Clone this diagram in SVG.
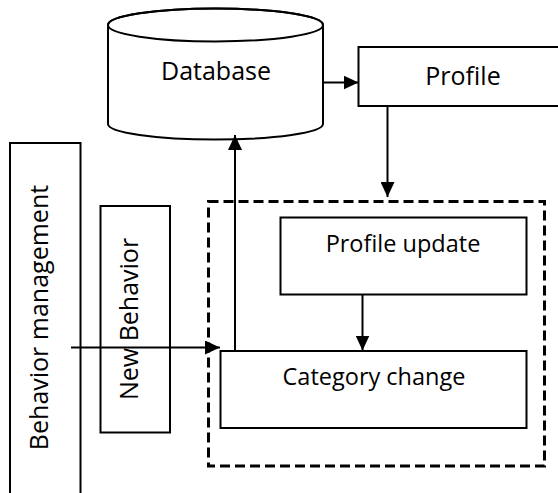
<svg xmlns="http://www.w3.org/2000/svg" width="558" height="493" viewBox="0 0 558 493">
  <defs>
    <marker id="arrow" markerUnits="userSpaceOnUse" markerWidth="15" markerHeight="14" refX="15" refY="7" orient="auto">
      <path d="M0,0 L15,7 L0,14 Z" fill="#000"/>
    </marker>
    <style>
      .box { fill: #fff; stroke: #000; stroke-width: 2; }
      .group { fill: none; stroke: #000; stroke-width: 3; stroke-dasharray: 10 5; }
      .lbl { font-family: "Open Sans", "Noto Sans", "Liberation Sans", sans-serif; font-size: 25px; fill: #000; text-anchor: middle; }
      .lbl-sm { font-size: 23.5px; }
      .conn { fill: none; stroke: #000; stroke-width: 2; marker-end: url(#arrow); }
    </style>
  </defs>

  <rect width="558" height="493" fill="#fff"/>

  <!-- storage -->
  <g id="database">
    <path class="box" d="M108,25 A107.5,16.5 0 0 1 323,25 L323,124 A107.5,15.5 0 0 1 108,124 Z"/>
    <ellipse cx="215.5" cy="25" rx="107.5" ry="16.5" fill="none" stroke="#000" stroke-width="2"/>
    <text class="lbl" x="216" y="80">Database</text>
  </g>

  <g id="profile">
    <rect class="box" x="358.5" y="47" width="220" height="59"/>
    <text class="lbl" x="463" y="85">Profile</text>
  </g>

  <g id="behavior-management">
    <rect class="box" x="10" y="143" width="70.5" height="380"/>
    <text class="lbl" transform="translate(48,317.5) rotate(-90)" x="0" y="0">Behavior management</text>
  </g>

  <g id="new-behavior">
    <rect class="box" x="100.5" y="206" width="69.5" height="226.5"/>
    <text class="lbl" transform="translate(138,319) rotate(-90)" x="0" y="0">New Behavior</text>
  </g>

  <!-- update unit -->
  <g id="update-unit">
    <rect class="group" x="208.5" y="201.5" width="336" height="264.5"/>
  </g>

  <g id="profile-update">
    <rect class="box" x="280.5" y="217.5" width="246" height="77"/>
    <text class="lbl lbl-sm" x="403" y="251.5">Profile update</text>
  </g>

  <g id="category-change">
    <rect class="box" x="220.5" y="351" width="306" height="77"/>
    <text class="lbl lbl-sm" x="374" y="385">Category change</text>
  </g>

  <!-- connectors -->
  <g id="connectors">
    <line class="conn" x1="323" y1="82.5" x2="358.5" y2="82.5"/>
    <line class="conn" x1="387.5" y1="106" x2="387.5" y2="197"/>
    <line class="conn" x1="235" y1="351" x2="235" y2="135"/>
    <line class="conn" x1="71" y1="347.5" x2="220" y2="347.5"/>
    <line class="conn" x1="362.5" y1="294.5" x2="362.5" y2="350.5"/>
  </g>
</svg>
